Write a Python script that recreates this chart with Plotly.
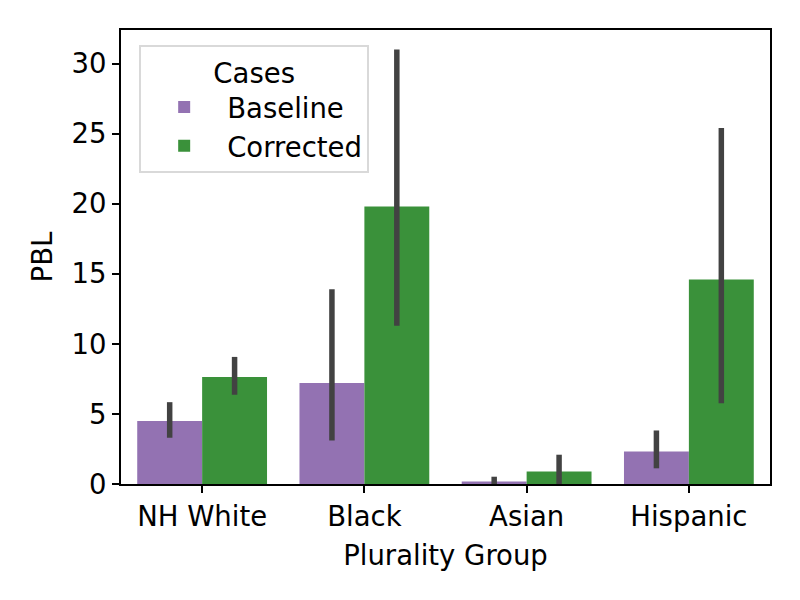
import plotly.graph_objects as go

groups = ["NH White", "Black", "Asian", "Hispanic"]
baseline = [4.49, 7.2, 0.18, 2.32]
baseline_lo = [3.3, 3.1, 0.0, 1.12]
baseline_hi = [5.84, 13.9, 0.52, 3.82]
corrected = [7.63, 19.8, 0.9, 14.6]
corrected_lo = [6.37, 11.3, 0.0, 5.76]
corrected_hi = [9.07, 31.0, 2.09, 25.4]

FONT = "DejaVu Sans"
FS = 27.5

def bar(name, vals, lo, hi, color):
    return go.Bar(
        x=groups, y=vals, name=name, marker=dict(color=color, line=dict(width=0)),
        error_y=dict(type="data", symmetric=False,
                     array=[h - v for h, v in zip(hi, vals)],
                     arrayminus=[v - l for v, l in zip(vals, lo)],
                     color="#424242", thickness=5.5, width=0),
    )

fig = go.Figure()
fig.add_trace(bar("Baseline", baseline, baseline_lo, baseline_hi, "#9372B2"))
fig.add_trace(bar("Corrected", corrected, corrected_lo, corrected_hi, "#3A913A"))

fig.update_layout(
    width=800, height=600,
    margin=dict(l=113, r=38, t=22, b=124),
    paper_bgcolor="white", plot_bgcolor="white",
    font=dict(family=FONT, size=FS, color="black"),
    barmode="group", bargap=0.2, bargroupgap=0,
    showlegend=True,
    legend=dict(
        title=dict(text="Cases", side="top center", font=dict(size=FS)),
        x=0.028, y=0.967, xanchor="left", yanchor="top",
        bgcolor="rgba(255,255,255,0.8)", bordercolor="#d9d9d9", borderwidth=2,
        font=dict(size=FS), itemwidth=76, tracegroupgap=0,
    ),
    xaxis=dict(
        title=dict(text="Plurality Group", font=dict(size=FS), standoff=15),
        range=[-0.5, 3.5], showline=True, linecolor="black", linewidth=2.2,
        mirror=True, ticks="outside", ticklen=7, tickwidth=2.2, tickcolor="black",
        showgrid=False, zeroline=False,
    ),
    yaxis=dict(
        title=dict(text="PBL", font=dict(size=FS), standoff=11),
        range=[0, 32.4], tickvals=[0, 5, 10, 15, 20, 25, 30],
        showline=True, linecolor="black", linewidth=2.2,
        mirror=True, ticks="outside", ticklen=7, tickwidth=2.2, tickcolor="black",
        showgrid=False, zeroline=False,
    ),
)

fig.write_html("out.html")
